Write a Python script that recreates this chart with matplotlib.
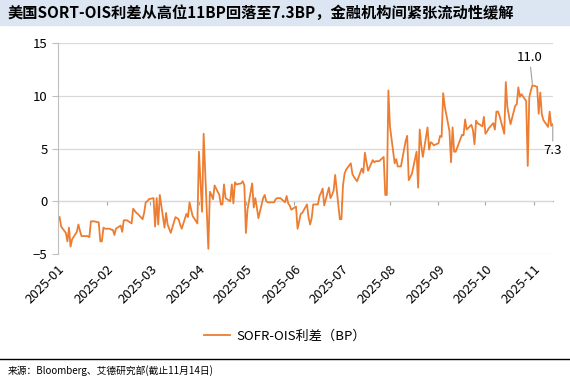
import numpy as np
import pandas as pd
import matplotlib
matplotlib.use('Agg')
import matplotlib.pyplot as plt
import matplotlib.dates as mdates
from matplotlib.patches import Rectangle
from matplotlib.lines import Line2D

plt.rcParams['font.family'] = ['Noto Sans CJK SC', 'DejaVu Sans']

# SOFR-OIS 利差（BP），每月按工作日顺序读取
jan = [-1.5, -2.4, -3.0, -3.8, -2.5, -4.3, -3.6, -2.9, -2.2, -2.8, -3.3,
       -3.3, -3.3, -3.4, -1.9, -1.9, -1.9, -2.0, -3.8, -3.8, -2.5, -2.6]
feb = [-2.6, -2.7, -2.7, -3.2, -2.6, -2.3, -2.9, -1.8, -1.8, -1.8, -2.1,
       -0.7, -0.9, -1.1, -1.2, -1.7, -1.1, -0.1, 0.0, 0.2]
mar = [0.3, -2.4, 0.3, -2.2, 0.6, -2.5, -1.1, -2.2, -2.6, -3.0, -1.5,
       -1.6, -1.7, -2.2, -2.6, -1.2, -1.5, -0.1, -0.8, -1.4, -2.1]
apr = [4.7, 1.8, -1.0, 6.4, -4.5, 0.9, 0.6, 0.2, 1.5, 0.6, -0.3,
       -0.3, 1.6, 0.3, 0.0, 1.6, -0.2, 1.8, 1.6, 1.7, 1.9, 1.5]
may = [-3.0, -0.8, 1.7, -0.6, 0.3, -0.6, -1.6, 0.3, 0.6, 0.0, -0.1,
       -0.1, -0.1, 0.2, 0.3, 0.3, 0.3, -0.1, 0.5, -0.2, -0.4, -0.8]
jun = [-0.5, -2.6, -1.9, -1.2, -1.1, -0.3, -1.5, -2.2, -1.6, -0.3, -0.3,
       0.5, 0.8, 1.2, -0.4, 1.3, 0.3, 0.6, 1.0, 2.5, -1.7]
jul = [-1.7, 1.5, 2.6, 3.0, 3.6, 2.6, 2.3, 2.1, 1.9, 3.1, 2.7, 4.6,
       3.7, 2.9, 3.9, 3.7, 3.8, 3.8, 3.8, 4.2, 0.6, 0.6, 10.5]
aug = [7.1, 3.6, 4.0, 3.3, 3.3, 3.3, 5.7, 6.2, 2.0, 2.3, 2.6, 4.7,
       1.3, 6.8, 5.3, 4.2, 7.0, 4.9, 5.6, 5.5, 5.3]
sep = [5.5, 6.2, 6.1, 10.25, 9.0, 6.65, 3.7, 7.0, 4.7, 4.7, 5.9, 6.3,
       6.25, 7.75, 6.8, 7.25, 6.75, 5.4, 7.65, 7.4, 7.1, 8.0]
oct_ = [6.4, 6.6, 6.9, 7.4, 6.8, 8.5, 8.5, 8.1, 6.4, 11.3, 8.9, 8.1,
        7.3, 9.05, 9.2, 10.8, 9.9, 10.15, 9.5, 3.35, 9.85, 10.5, 11.0]
nov = [10.85, 8.3, 10.3, 8.25, 7.7, 7.05, 8.5, 7.15, 7.3]

month_starts = ['2025-01-02', '2025-02-03', '2025-03-03', '2025-04-01',
                '2025-05-01', '2025-06-02', '2025-07-01', '2025-08-01',
                '2025-09-01', '2025-10-01', '2025-11-03']
months = [jan, feb, mar, apr, may, jun, jul, aug, sep, oct_, nov]

dates = []
values = []
for start, vals in zip(month_starts, months):
    dates.extend(pd.bdate_range(start, periods=len(vals)))
    values.extend(vals)
s = pd.Series(values, index=pd.DatetimeIndex(dates))

peak_date, peak_val = pd.Timestamp('2025-10-31'), 11.0
last_date, last_val = s.index[-1], s.iloc[-1]

title = '美国SORT-OIS利差从高位11BP回落至7.3BP，金融机构间紧张流动性缓解'
source = '来源：Bloomberg、艾德研究部(截止11月14日)'
orange = '#ED7D31'

fig = plt.figure(figsize=(5.7, 3.82), dpi=100)
ax = fig.add_axes([0.1018, 0.335, 0.868, 0.5524])

ax.plot(s.index, s.values, color=orange, lw=1.3, label='SOFR-OIS利差（BP）')

ax.set_ylim(-5, 15)
ax.set_yticks([-5, 0, 5, 10, 15])
ax.set_xlim(pd.Timestamp('2025-01-01'), last_date)
ax.xaxis.set_major_locator(mdates.MonthLocator())
ax.xaxis.set_major_formatter(mdates.DateFormatter('%Y-%m'))
for lab in ax.get_xticklabels():
    lab.set_rotation(45)
    lab.set_ha('right')
    lab.set_rotation_mode('anchor')

ax.grid(axis='y', color='#d9d9d9', lw=0.9)
ax.set_axisbelow(True)
for side in ['top', 'right', 'bottom']:
    ax.spines[side].set_visible(False)
ax.spines['left'].set_color('#bfbfbf')
ax.tick_params(axis='y', colors='#bfbfbf', length=4, labelcolor='black', labelsize=9.5)
ax.tick_params(axis='x', length=0, labelsize=9.5, pad=6)

# 零轴与刻度
sec = ax.secondary_xaxis(0.25)
sec.xaxis.set_major_locator(mdates.MonthLocator())
sec.tick_params(axis='x', direction='out', length=3, colors='#a6a6a6', labelbottom=False)
sec.spines['bottom'].set_color('#a6a6a6')

ax.annotate(f'{peak_val:.1f}', xy=(peak_date, peak_val), xytext=(-2, 15),
            textcoords='offset points', ha='center', va='bottom', fontsize=9.5,
            arrowprops=dict(arrowstyle='-', color='#a0a0a0', lw=0.8, shrinkA=0, shrinkB=1))
ax.annotate(f'{last_val:.1f}', xy=(last_date, last_val), xytext=(0, -14),
            textcoords='offset points', ha='center', va='top', fontsize=9.5,
            arrowprops=dict(arrowstyle='-', color='#a0a0a0', lw=0.8, shrinkA=0, shrinkB=1),
            annotation_clip=False)

fig.legend(loc='center', bbox_to_anchor=(0.5, 0.12), frameon=False, fontsize=9.5,
           handlelength=2.0, handletextpad=0.5)

fig.patches.append(Rectangle((0, 0.9346), 1, 0.0654, transform=fig.transFigure,
                             color='#dce6f2', zorder=0))
fig.text(0.014, 0.967, title, fontsize=11, fontweight='bold', va='center', ha='left')
fig.add_artist(Line2D([0, 1], [0.0602, 0.0602], color='black', lw=1.0))
fig.text(0.014, 0.029, source, fontsize=7, va='center', ha='left')

fig.savefig('out.png', dpi=100)
